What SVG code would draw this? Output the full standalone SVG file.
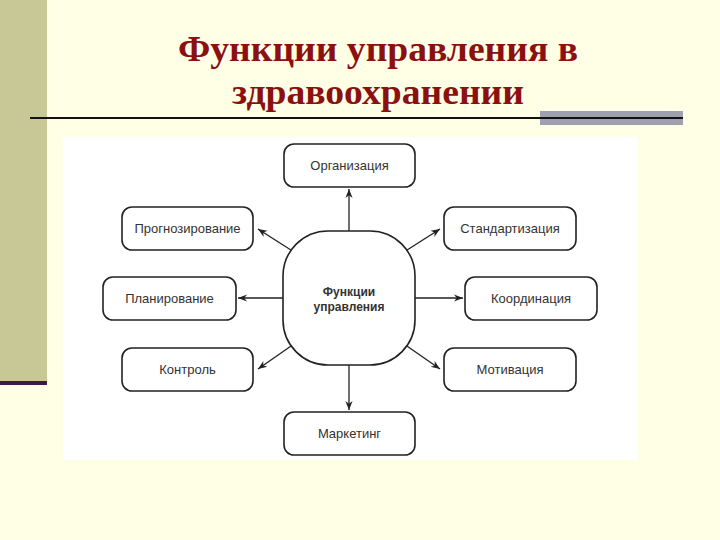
<svg xmlns="http://www.w3.org/2000/svg" width="720" height="540" viewBox="0 0 720 540">
<defs>
<marker id="ah" viewBox="0 0 10 10" refX="10" refY="5" markerWidth="9" markerHeight="9" orient="auto" markerUnits="userSpaceOnUse"><path d="M0,1 L10,5 L0,9 L3,5 z" fill="#222"/></marker>
</defs>
<style>
.n{fill:#fff;stroke:#222;stroke-width:1.6}
.t{font-family:"Liberation Sans",Arial,sans-serif;font-size:13px;fill:#333;text-anchor:middle}
.c line{stroke:#222;stroke-width:1.3;marker-end:url(#ah)}
</style>
<rect width="720" height="540" fill="#FFFFE6"/>
<rect x="0" y="0" width="47" height="382" fill="#C8C896"/>
<rect x="0" y="381" width="47" height="4" fill="#3A1A4A"/>
<rect x="540" y="111" width="143" height="14" fill="#A0A0B0"/>
<line x1="30" y1="118" x2="683" y2="118" stroke="#111" stroke-width="2"/>
<text x="378" y="61" font-family="Liberation Serif,serif" font-size="36" font-weight="bold" fill="#8B1010" text-anchor="middle" textLength="400" lengthAdjust="spacingAndGlyphs">Функции управления в</text>
<text x="378" y="104" font-family="Liberation Serif,serif" font-size="36" font-weight="bold" fill="#8B1010" text-anchor="middle" textLength="292" lengthAdjust="spacingAndGlyphs">здравоохранении</text>
<rect x="63" y="137" width="574" height="323" fill="#fff"/>
<g class="c">
<line x1="349" y1="231" x2="349" y2="189"/>
<line x1="349" y1="365" x2="349" y2="410"/>
<line x1="283" y1="298" x2="238" y2="298"/>
<line x1="415" y1="298" x2="463" y2="298"/>
<line x1="294" y1="252" x2="258" y2="229"/>
<line x1="404" y1="252" x2="440" y2="229"/>
<line x1="294" y1="344" x2="258" y2="369"/>
<line x1="404" y1="344" x2="440" y2="369"/>
</g>
<g id="center"><rect class="n" x="283" y="231" width="132" height="134" rx="45"/><text class="t" x="349" y="296" font-weight="bold" style="font-size:12px">Функции</text><text class="t" x="349" y="311" font-weight="bold" style="font-size:12px">управления</text></g>
<g id="org"><rect class="n" x="284" y="144" width="131" height="43" rx="10"/><text class="t" x="349.5" y="170">Организация</text></g>
<g id="progn"><rect class="n" x="122" y="207" width="131" height="43" rx="10"/><text class="t" x="187.5" y="233">Прогнозирование</text></g>
<g id="stand"><rect class="n" x="444" y="207" width="132" height="43" rx="10"/><text class="t" x="510" y="233">Стандартизация</text></g>
<g id="plan"><rect class="n" x="103" y="277" width="133" height="43" rx="10"/><text class="t" x="169.5" y="303">Планирование</text></g>
<g id="coord"><rect class="n" x="465" y="277" width="132" height="43" rx="10"/><text class="t" x="531" y="303">Координация</text></g>
<g id="kontr"><rect class="n" x="122" y="348" width="131" height="43" rx="10"/><text class="t" x="187.5" y="374">Контроль</text></g>
<g id="motiv"><rect class="n" x="444" y="348" width="132" height="43" rx="10"/><text class="t" x="510" y="374">Мотивация</text></g>
<g id="mark"><rect class="n" x="284" y="412" width="131" height="43" rx="10"/><text class="t" x="349.5" y="438">Маркетинг</text></g>
</svg>
